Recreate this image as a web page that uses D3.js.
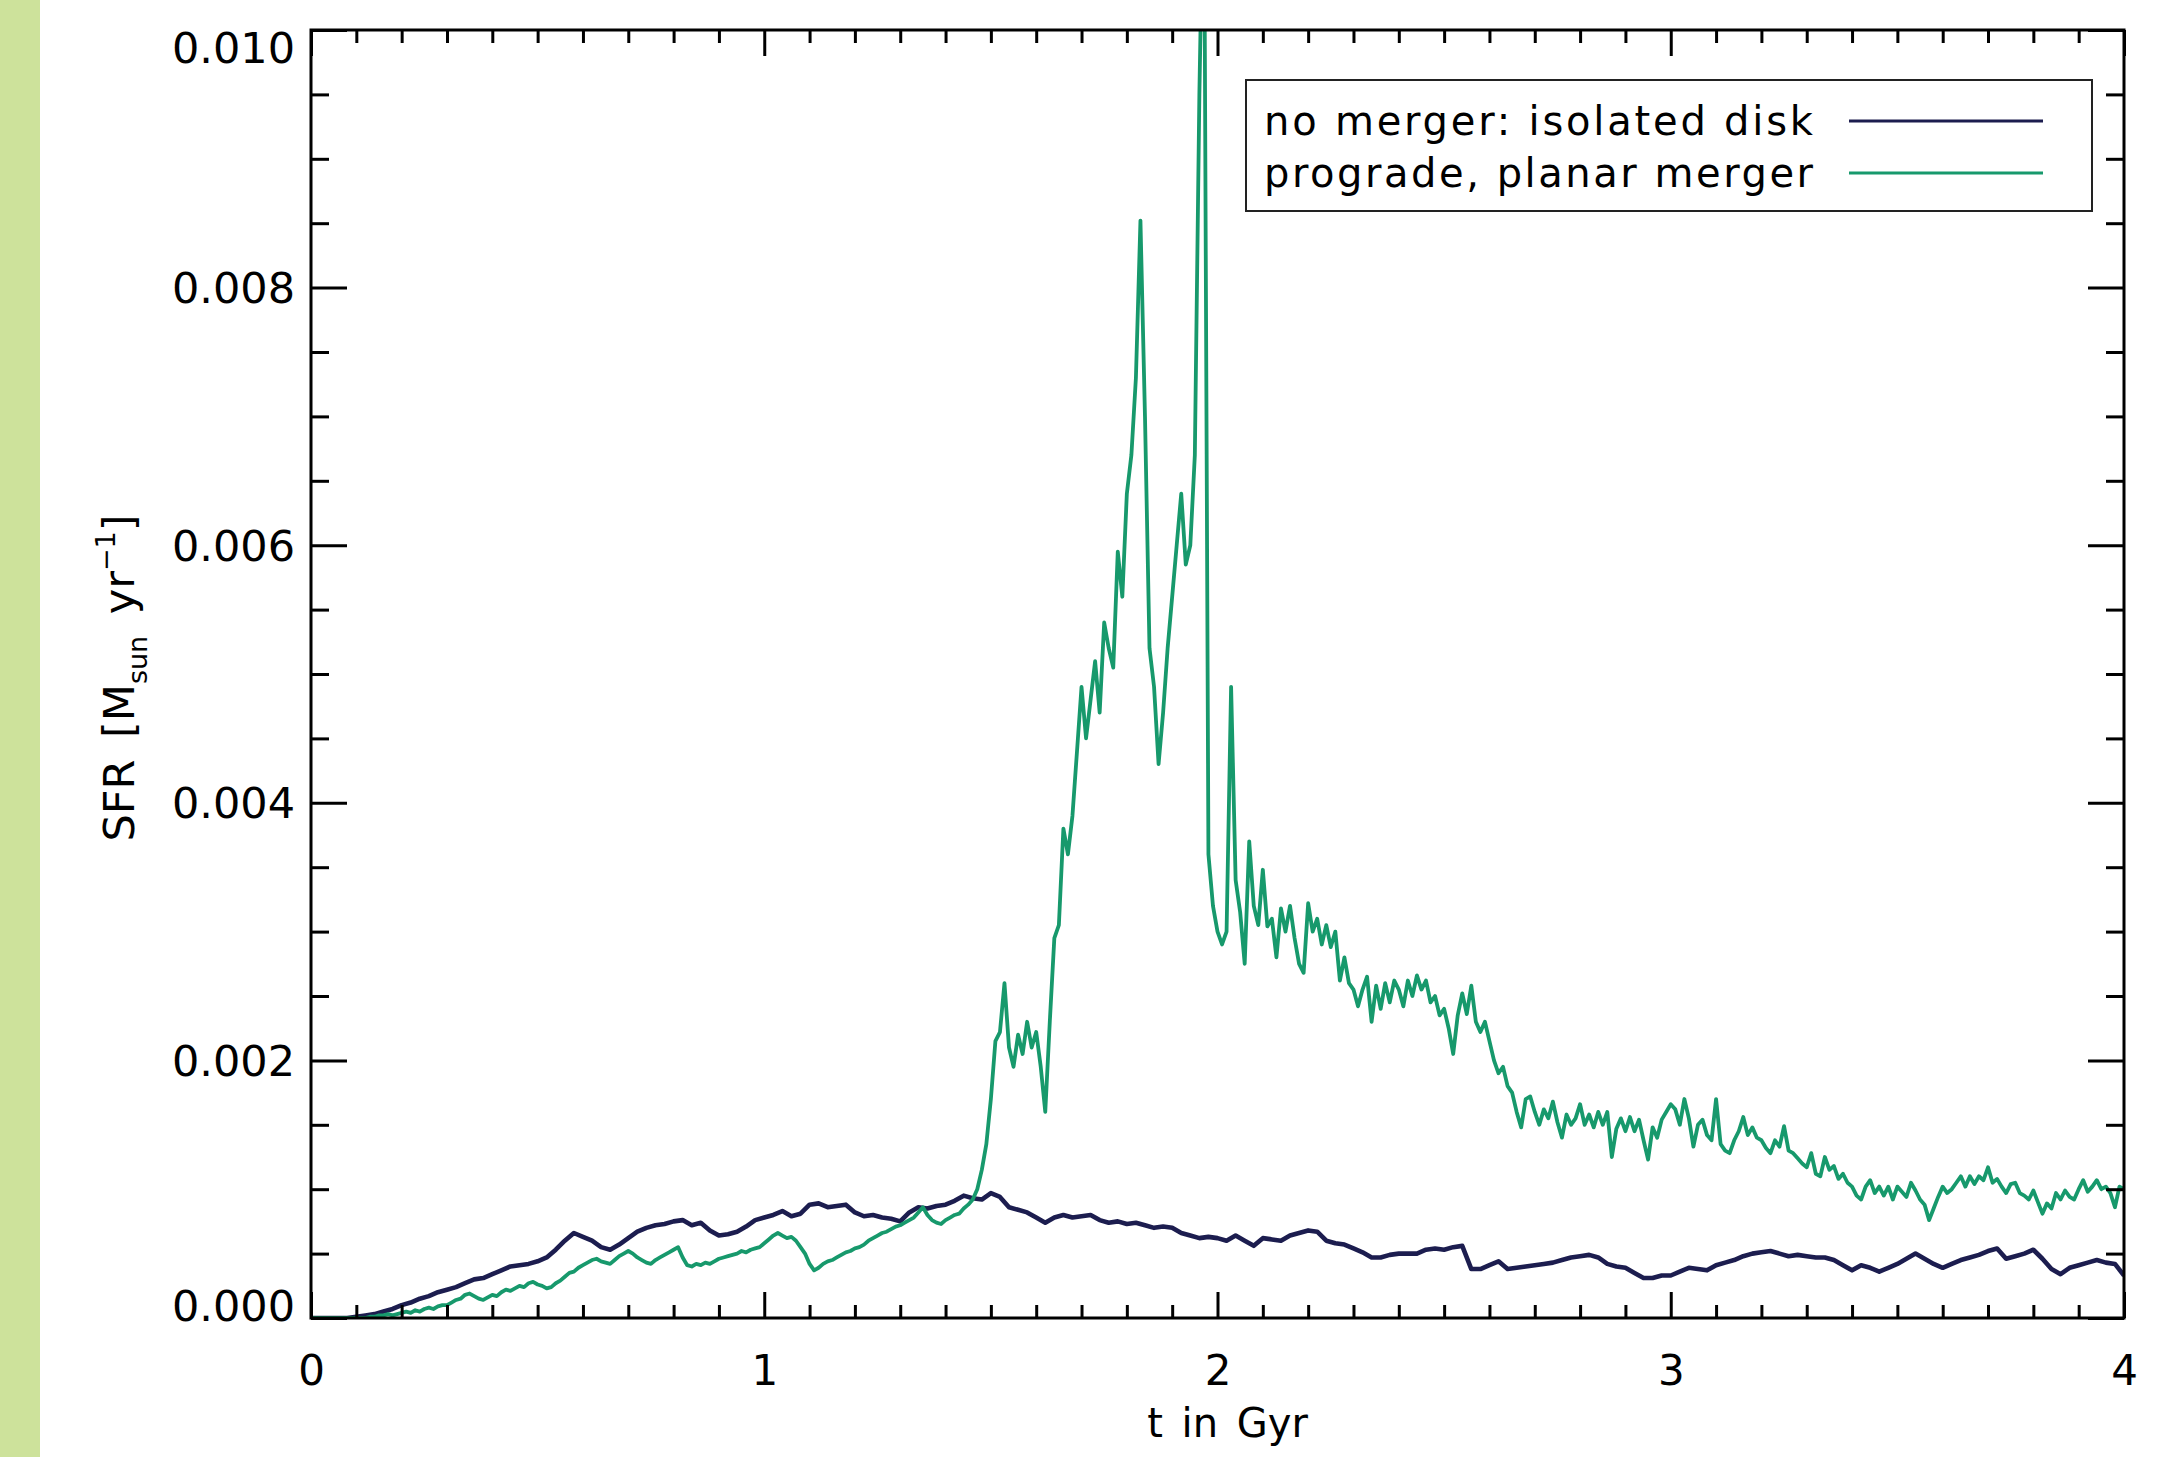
<!DOCTYPE html>
<html>
<head>
<meta charset="utf-8">
<script src="https://cdn.jsdelivr.net/npm/d3@7"></script>
<style>
html, body { margin: 0; padding: 0; background: #fff; }
svg { display: block; }
text { font-family: "DejaVu Sans", sans-serif; fill: #000; }
</style>
</head>
<body>
<div id="graph"></div>
<script>
// sampling step of each run, in Gyr
const isoStep = 0.02;
const mergerStep = 0.01;

// SFR, in units of 1e-3 Msun/yr
const sfrIsolated = [
  0, 0, 0, 0, 0, 0.01,
  0.02, 0.03, 0.05, 0.07, 0.10,
  0.12, 0.15, 0.17, 0.20, 0.22,
  0.24, 0.27, 0.30, 0.31, 0.34,
  0.37, 0.40, 0.41, 0.42, 0.44,
  0.47, 0.53, 0.60, 0.66, 0.63,
  0.60, 0.55, 0.53, 0.57, 0.62,
  0.67, 0.70, 0.72, 0.73, 0.75,
  0.76, 0.72, 0.74, 0.68, 0.64,
  0.65, 0.67, 0.71, 0.76, 0.78,
  0.80, 0.83, 0.79, 0.81, 0.88,
  0.89, 0.86, 0.87, 0.88, 0.82,
  0.79, 0.80, 0.78, 0.77, 0.75,
  0.82, 0.86, 0.85, 0.87, 0.88,
  0.91, 0.95, 0.93, 0.92, 0.97,
  0.94, 0.86, 0.84, 0.82, 0.78,
  0.74, 0.78, 0.80, 0.78, 0.79,
  0.80, 0.76, 0.74, 0.75, 0.73,
  0.74, 0.72, 0.70, 0.71, 0.70,
  0.66, 0.64, 0.62, 0.63, 0.62,
  0.60, 0.64, 0.60, 0.56, 0.62,
  0.61, 0.60, 0.64, 0.66, 0.68,
  0.67, 0.60, 0.58, 0.57, 0.54,
  0.51, 0.47, 0.47, 0.49, 0.50,
  0.50, 0.50, 0.53, 0.54, 0.53,
  0.55, 0.56, 0.38, 0.38, 0.41,
  0.44, 0.38, 0.39, 0.40, 0.41,
  0.42, 0.43, 0.45, 0.47, 0.48,
  0.49, 0.47, 0.42, 0.40, 0.39,
  0.35, 0.31, 0.31, 0.33, 0.33,
  0.36, 0.39, 0.38, 0.37, 0.41,
  0.43, 0.45, 0.48, 0.50, 0.51,
  0.52, 0.50, 0.48, 0.49, 0.48,
  0.47, 0.47, 0.45, 0.41, 0.37,
  0.41, 0.39, 0.36, 0.39, 0.42,
  0.46, 0.50, 0.46, 0.42, 0.39,
  0.42, 0.45, 0.47, 0.49, 0.52,
  0.54, 0.46, 0.48, 0.50, 0.53,
  0.46, 0.38, 0.34, 0.39, 0.41,
  0.43, 0.45, 0.43, 0.42, 0.33
];

const sfrMerger = [
  0, 0, 0, 0, 0, 0, 0, 0, 0, 0, 0, 0, 0,
  0.01, 0.01, 0.02, 0.02, 0.03, 0.02, 0.03, 0.04,
  0.05, 0.04, 0.06, 0.05, 0.07, 0.08, 0.07, 0.09, 0.10, 0.10,
  0.12, 0.14, 0.15, 0.18, 0.19, 0.17, 0.15, 0.14, 0.16, 0.18,
  0.17, 0.20, 0.22, 0.21, 0.23, 0.25, 0.24, 0.27, 0.28, 0.26,
  0.25, 0.23, 0.24, 0.27, 0.29, 0.32, 0.35, 0.36, 0.39, 0.41,
  0.43, 0.45, 0.46, 0.44, 0.43, 0.42, 0.45, 0.48, 0.50, 0.52,
  0.50, 0.47, 0.45, 0.43, 0.42, 0.45, 0.47, 0.49, 0.51, 0.53,
  0.55, 0.47, 0.41, 0.40, 0.42, 0.41, 0.43, 0.42, 0.44, 0.46,
  0.47, 0.48, 0.49, 0.50, 0.52, 0.51, 0.53, 0.54, 0.55, 0.58,
  0.61, 0.64, 0.66, 0.64, 0.62, 0.63, 0.60, 0.55, 0.50, 0.42,
  0.37, 0.39, 0.42, 0.44, 0.45, 0.47, 0.49, 0.51, 0.52, 0.54,
  0.55, 0.57, 0.60, 0.62, 0.64, 0.66, 0.67, 0.69, 0.71, 0.72,
  0.74, 0.76, 0.78, 0.82, 0.86, 0.80, 0.76, 0.74, 0.73, 0.76,
  0.78, 0.80, 0.81, 0.85, 0.88, 0.92, 1.00, 1.15, 1.35, 1.70,
  2.15, 2.22, 2.60, 2.10, 1.95, 2.20, 2.05, 2.30, 2.10, 2.22,
  1.95, 1.60, 2.30, 2.95, 3.05, 3.80, 3.60, 3.90, 4.40, 4.90,
  4.50, 4.80, 5.10, 4.70, 5.40, 5.20, 5.05, 5.95, 5.60, 6.40,
  6.70, 7.30, 8.52, 7.00, 5.20, 4.90, 4.30, 4.70, 5.20, 5.60,
  6.00, 6.40, 5.85, 6.00, 6.70, 9.50, 11.50, 3.60, 3.20, 3.00,
  2.90, 3.00, 4.90, 3.40, 3.15, 2.75, 3.70, 3.20, 3.05, 3.48,
  3.04, 3.10, 2.80, 3.18, 3.00, 3.20, 2.95, 2.75, 2.68, 3.22,
  3.00, 3.10, 2.90, 3.05, 2.88, 3.00, 2.62, 2.80, 2.60, 2.55,
  2.42, 2.55, 2.65, 2.30, 2.58, 2.40, 2.60, 2.45, 2.62, 2.55,
  2.42, 2.62, 2.50, 2.66, 2.55, 2.62, 2.45, 2.50, 2.35, 2.40,
  2.25, 2.05, 2.35, 2.52, 2.36, 2.58, 2.30, 2.22, 2.30, 2.15,
  2.00, 1.90, 1.95, 1.80, 1.75, 1.60, 1.48, 1.70, 1.72, 1.60,
  1.50, 1.62, 1.55, 1.68, 1.52, 1.40, 1.58, 1.50, 1.55, 1.66,
  1.50, 1.58, 1.48, 1.60, 1.50, 1.60, 1.25, 1.47, 1.55, 1.45,
  1.56, 1.45, 1.54, 1.38, 1.23, 1.48, 1.40, 1.54, 1.60, 1.66,
  1.62, 1.50, 1.70, 1.55, 1.33, 1.50, 1.54, 1.42, 1.38, 1.70,
  1.35, 1.30, 1.28, 1.38, 1.45, 1.56, 1.42, 1.48, 1.40, 1.38,
  1.32, 1.28, 1.38, 1.33, 1.49, 1.30, 1.28, 1.24, 1.20, 1.17,
  1.28, 1.12, 1.10, 1.25, 1.15, 1.18, 1.08, 1.12, 1.05, 1.02,
  0.95, 0.92, 1.02, 1.07, 0.97, 1.02, 0.95, 1.02, 0.92, 1.02,
  0.98, 0.94, 1.05, 0.99, 0.92, 0.88, 0.76, 0.85, 0.94, 1.02,
  0.97, 1.00, 1.05, 1.10, 1.02, 1.10, 1.04, 1.10, 1.07, 1.17,
  1.05, 1.08, 1.02, 0.97, 1.04, 1.05, 0.97, 0.95, 0.92, 0.99,
  0.90, 0.81, 0.89, 0.85, 0.97, 0.92, 0.99, 0.94, 0.92, 1.00,
  1.07, 0.98, 1.02, 1.07, 1.00, 1.02, 0.97, 0.86, 1.02, 1.00
];

const seriesNames = ["no merger: isolated disk", "prograde, planar merger"];
const xTickValues = [0, 1, 2, 3, 4];
const yTickValues = [0, 0.002, 0.004, 0.006, 0.008, 0.010];

const navy = "#1c1d4f";
const green = "#17996c";

// figure layout (pixels)
const W = 2175, H = 1457;
const margin = { top: 30, right: 51, bottom: 139, left: 311 };
const width = W - margin.left - margin.right;
const height = H - margin.top - margin.bottom;

const svg = d3.select("#graph")
    .append("svg")
    .attr("width", W)
    .attr("height", H);

svg.append("rect").attr("width", W).attr("height", H).attr("fill", "#fff");
svg.append("rect").attr("width", 40).attr("height", H).attr("fill", "#cde29b");

const g = svg.append("g")
    .attr("transform", `translate(${margin.left}, ${margin.top})`);

const x = d3.scaleLinear().domain([0, 4]).range([0, width]);
const y = d3.scaleLinear().domain([0, 0.010]).range([height, 0]);

const isoData = sfrIsolated.map((v, i) => ({ t: i * isoStep, v: v * 1e-3 }));
const mergerData = sfrMerger.map((v, i) => ({ t: i * mergerStep, v: v * 1e-3 }));

g.append("clipPath").attr("id", "plotClip")
    .append("rect").attr("width", width).attr("height", height);

const line = d3.line()
    .x(d => x(d.t))
    .y(d => y(d.v));

g.append("path")
    .datum(isoData)
    .attr("clip-path", "url(#plotClip)")
    .attr("fill", "none")
    .attr("stroke", navy)
    .attr("stroke-width", 4.6)
    .attr("stroke-linejoin", "round")
    .attr("d", line);

g.append("path")
    .datum(mergerData)
    .attr("clip-path", "url(#plotClip)")
    .attr("fill", "none")
    .attr("stroke", green)
    .attr("stroke-width", 3.8)
    .attr("stroke-linejoin", "round")
    .attr("d", line);

// minor tick positions
const xMinor = d3.range(0, 41).map(i => i / 10).filter(t => !xTickValues.includes(t));
const yMinor = d3.range(0, 21).map(i => i * 0.0005).filter((v, i) => i % 4 !== 0);

function styleAxis(sel) {
    sel.select(".domain").remove();
    sel.selectAll("line").attr("stroke", "#000").attr("stroke-width", 3);
}

// inward ticks on all four sides
g.append("g").attr("transform", `translate(0, ${height})`)
    .call(d3.axisBottom(x).tickValues(xTickValues).tickSize(-26).tickFormat(""))
    .call(styleAxis);
g.append("g").attr("transform", `translate(0, ${height})`)
    .call(d3.axisBottom(x).tickValues(xMinor).tickSize(-13).tickFormat(""))
    .call(styleAxis);
g.append("g")
    .call(d3.axisTop(x).tickValues(xTickValues).tickSize(-26).tickFormat(""))
    .call(styleAxis);
g.append("g")
    .call(d3.axisTop(x).tickValues(xMinor).tickSize(-13).tickFormat(""))
    .call(styleAxis);
g.append("g")
    .call(d3.axisLeft(y).tickValues(yTickValues).tickSize(-36).tickFormat(""))
    .call(styleAxis);
g.append("g")
    .call(d3.axisLeft(y).tickValues(yMinor).tickSize(-18).tickFormat(""))
    .call(styleAxis);
g.append("g").attr("transform", `translate(${width}, 0)`)
    .call(d3.axisRight(y).tickValues(yTickValues).tickSize(-36).tickFormat(""))
    .call(styleAxis);
g.append("g").attr("transform", `translate(${width}, 0)`)
    .call(d3.axisRight(y).tickValues(yMinor).tickSize(-18).tickFormat(""))
    .call(styleAxis);

// tick labels
const xLab = g.append("g").attr("transform", `translate(0, ${height})`)
    .call(d3.axisBottom(x).tickValues(xTickValues).tickSize(0).tickFormat(d3.format("d")));
xLab.select(".domain").remove();
xLab.selectAll("text")
    .attr("y", 67).attr("dy", null)
    .style("font-size", "42px").style("font-family", "DejaVu Sans");

const yLab = g.append("g")
    .call(d3.axisLeft(y).tickValues(yTickValues).tickSize(0).tickFormat(d3.format(".3f")));
yLab.select(".domain").remove();
yLab.selectAll("text")
    .attr("x", -16)
    .attr("dy", null)
    .attr("y", d => d === 0.010 ? 32 : (d === 0 ? 2 : 15))
    .style("font-size", "43px").style("font-family", "DejaVu Sans");

// frame
g.append("rect")
    .attr("width", width).attr("height", height)
    .attr("fill", "none").attr("stroke", "#000").attr("stroke-width", 3);

// axis titles
svg.append("text")
    .attr("x", margin.left + width / 2 + 10)
    .attr("y", 1437)
    .attr("text-anchor", "middle")
    .style("font-size", "40px")
    .style("word-spacing", "6px")
    .text("t in Gyr");

const yTitle = svg.append("text")
    .attr("transform", "translate(134, 678) rotate(-90)")
    .attr("text-anchor", "middle")
    .style("font-size", "43px")
    .style("word-spacing", "8px");
yTitle.append("tspan").text("SFR [M");
yTitle.append("tspan").attr("dy", 13).style("font-size", "27px").text("sun");
yTitle.append("tspan").attr("dy", -13).text(" yr");
yTitle.append("tspan").attr("dy", -19).style("font-size", "27px").text("\u22121");
yTitle.append("tspan").attr("dy", 19).text("]");

// legend
const legend = svg.append("g");
legend.append("rect")
    .attr("x", 1246).attr("y", 80)
    .attr("width", 846).attr("height", 131)
    .attr("fill", "#fff").attr("stroke", "#222").attr("stroke-width", 2);
[navy, green].forEach((c, i) => {
    const cy = 121 + i * 52;
    legend.append("text")
        .attr("x", 1264).attr("y", cy + 14)
        .attr("textLength", 549).attr("lengthAdjust", "spacing")
        .style("font-size", "40px")
        .text(seriesNames[i]);
    legend.append("line")
        .attr("x1", 1849).attr("x2", 2043)
        .attr("y1", cy).attr("y2", cy)
        .attr("stroke", c).attr("stroke-width", 3);
});
</script>
</body>
</html>
